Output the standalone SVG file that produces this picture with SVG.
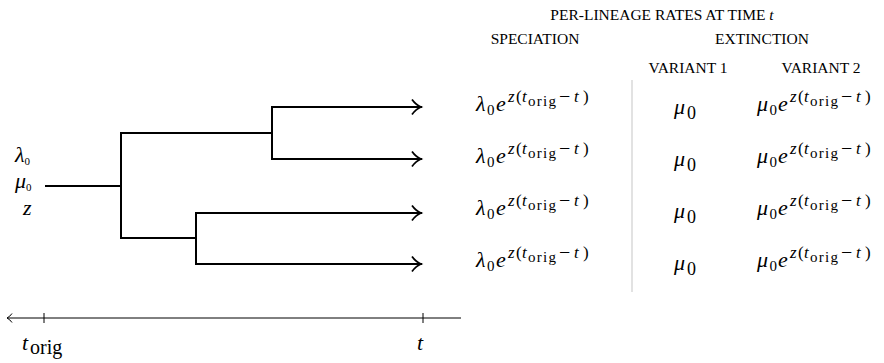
<svg xmlns="http://www.w3.org/2000/svg" width="884" height="363" viewBox="0 0 884 363">
  <style>
    .edge { fill: none; stroke: #000; stroke-width: 2; stroke-linecap: square; }
    .axis { fill: none; stroke: #000; stroke-width: 1; }
    .sep { stroke: #d9d9d9; stroke-width: 1.5; }
    .head { font-family: "Liberation Serif", "Times New Roman", serif; font-size: 15.5px; fill: #000; }
    .m { font-family: "Liberation Serif", "Times New Roman", serif; font-size: 22px; fill: #000; }
    .sup { font-family: "Liberation Serif", "Times New Roman", serif; font-size: 17px; fill: #000; }
    .i { font-style: italic; }
  </style>
  <defs>
    <marker id="chev" markerUnits="userSpaceOnUse" markerWidth="14" markerHeight="20" refX="11" refY="10" orient="auto">
      <path d="M2,2.5 Q6,8 11,10 Q6,12 2,17.5" fill="none" stroke="#000" stroke-width="1.8"/>
    </marker>
    <marker id="chevAxis" markerUnits="userSpaceOnUse" markerWidth="10" markerHeight="12" refX="8" refY="6" orient="auto">
      <path d="M3,1.5 Q5,4.5 8,6 Q5,7.5 3,10.5" fill="none" stroke="#000" stroke-width="1"/>
    </marker>
    <!-- growth factor e^{z(t_orig - t)}, origin at the left of e on the baseline -->
    <g id="expo">
      <text class="m" font-size="23"><tspan class="i" x="0" y="0">e</tspan></text>
      <text class="sup" y="-9"><tspan class="i" x="12">z</tspan><tspan x="20">(</tspan><tspan class="i" x="26">t</tspan><tspan x="32" y="-5" font-size="15" textLength="28">orig</tspan><tspan x="63" y="-8" font-size="20">−</tspan><tspan class="i" x="78" y="-9">t</tspan><tspan x="87">)</tspan></text>
    </g>
    <g id="lam0">
      <text class="m" font-size="24"><tspan class="i" x="1" y="0">λ</tspan><tspan x="12" y="4" font-size="15">0</tspan></text>
    </g>
    <g id="mu0">
      <text class="m" font-size="23"><tspan class="i" x="0" y="0">μ</tspan><tspan x="12.5" y="4" font-size="15">0</tspan></text>
    </g>
    <g id="mu0big">
      <text class="m" font-size="27"><tspan class="i" x="1" y="0">μ</tspan><tspan x="14" y="5" font-size="18">0</tspan></text>
    </g>
  </defs>

  <!-- root parameters -->
  <g id="root-params">
    <text class="m" font-size="16" x="15" y="162"><tspan class="i">λ</tspan><tspan font-size="11" dy="3">0</tspan></text>
    <text class="m" font-size="16" x="15" y="188"><tspan class="i">μ</tspan><tspan font-size="11" dy="3">0</tspan></text>
    <text class="m i" font-size="16" x="23" y="215">z</text>
  </g>

  <!-- tree -->
  <g id="connectors">
    <path class="edge" d="M46,186 H121"/>
    <path class="edge" d="M121,133 V238"/>
    <path class="edge" d="M121,133 H272"/>
    <path class="edge" d="M121,238 H196"/>
    <path class="edge" d="M272,107 V159"/>
    <path class="edge" d="M196,213 V264"/>
    <path class="edge" d="M272,107 H421" marker-end="url(#chev)"/>
    <path class="edge" d="M272,159 H421" marker-end="url(#chev)"/>
    <path class="edge" d="M196,213 H421" marker-end="url(#chev)"/>
    <path class="edge" d="M196,264 H421" marker-end="url(#chev)"/>
  </g>

  <!-- time axis -->
  <g id="time-axis">
    <path class="axis" d="M461,318 H7" marker-end="url(#chevAxis)"/>
    <path class="axis" d="M44,313 V323 M423,313 V323"/>
    <text class="m" font-size="27"><tspan class="i" x="22" y="350">t</tspan><tspan x="30" y="354" font-size="20">orig</tspan></text>
    <text class="m i" x="417" y="350" font-size="27">t</text>
  </g>

  <!-- table headings -->
  <g id="table-head">
    <text class="head" x="662" y="20" text-anchor="middle">PER-LINEAGE RATES AT TIME <tspan class="i">t</tspan></text>
    <text class="head" x="535" y="44" text-anchor="middle">SPECIATION</text>
    <text class="head" x="762" y="44" text-anchor="middle">EXTINCTION</text>
    <text class="head" x="688" y="73" text-anchor="middle">VARIANT 1</text>
    <text class="head" x="821" y="73" text-anchor="middle">VARIANT 2</text>
  </g>

  <line class="sep" x1="632" y1="80" x2="632" y2="292"/>

  <!-- speciation column -->
  <g id="speciation">
    <use href="#lam0" x="475" y="111"/><use href="#expo" x="496" y="111"/>
    <use href="#lam0" x="475" y="163"/><use href="#expo" x="496" y="163"/>
    <use href="#lam0" x="475" y="215"/><use href="#expo" x="496" y="215"/>
    <use href="#lam0" x="475" y="267"/><use href="#expo" x="496" y="267"/>
  </g>

  <!-- extinction, variant 1 -->
  <g id="variant-1">
    <use href="#mu0big" x="673" y="114"/>
    <use href="#mu0big" x="673" y="166"/>
    <use href="#mu0big" x="673" y="218"/>
    <use href="#mu0big" x="673" y="270"/>
  </g>

  <!-- extinction, variant 2 -->
  <g id="variant-2">
    <use href="#mu0" x="757" y="111"/><use href="#expo" x="778" y="111"/>
    <use href="#mu0" x="757" y="163"/><use href="#expo" x="778" y="163"/>
    <use href="#mu0" x="757" y="215"/><use href="#expo" x="778" y="215"/>
    <use href="#mu0" x="757" y="267"/><use href="#expo" x="778" y="267"/>
  </g>
</svg>
